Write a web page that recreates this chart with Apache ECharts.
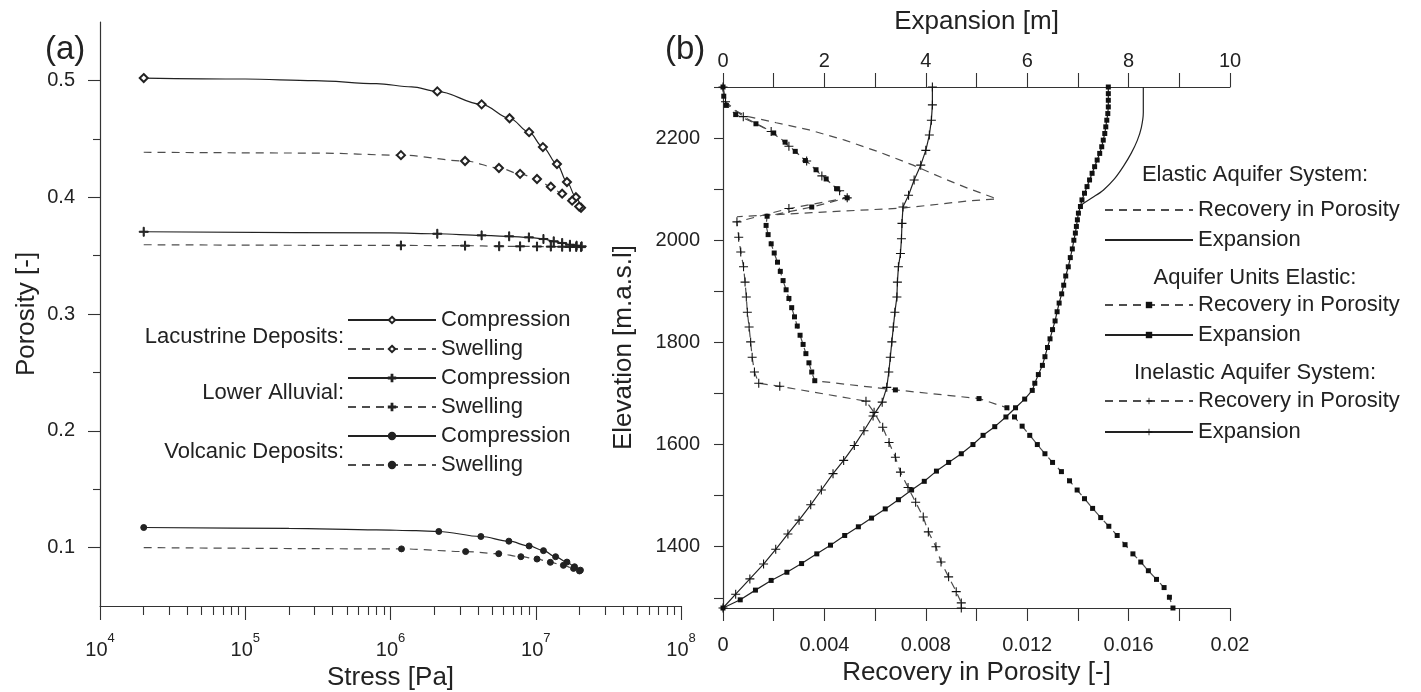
<!DOCTYPE html>
<html>
<head>
<meta charset="utf-8">
<title>Porosity vs stress and recovery profiles</title>
<script src="https://cdn.jsdelivr.net/npm/echarts@6.0.0/dist/echarts.min.js"></script>
<style>
  html, body { margin: 0; padding: 0; background: #fff; }
  #main { width: 1421px; height: 692px; }
</style>
</head>
<body>
<div id="main"></div>
<script>
// ---------- panel (a): stress [Pa] vs porosity ----------
// *Marks = points carrying a symbol, *Shape = extra points on the curve (line only)
const lacCompMarks = [[2e4, 0.502], [2.1e6, 0.4906], [4.24e6, 0.4795], [6.6e6, 0.4676], [9.0e6, 0.4557], [1.12e7, 0.4429], [1.4e7, 0.4284], [1.64e7, 0.413], [1.89e7, 0.400], [2.05e7, 0.391]];
const lacCompShape = [[1e5, 0.5012], [3e5, 0.4998], [8e5, 0.4972], [1.4e6, 0.4945]];
const lacSwellMarks = [[1.18e6, 0.436], [3.26e6, 0.431], [5.58e6, 0.425], [7.8e6, 0.420], [1.02e7, 0.4156], [1.27e7, 0.409], [1.52e7, 0.403], [1.78e7, 0.397], [1.99e7, 0.392]];
const lacSwellShape = [[2e4, 0.4385], [3e5, 0.4378]];
const aluCompMarks = [[2e4, 0.3704], [2.1e6, 0.3687], [4.24e6, 0.3673], [6.56e6, 0.3665], [8.97e6, 0.3656], [1.13e7, 0.3642], [1.33e7, 0.3622], [1.52e7, 0.3608], [1.72e7, 0.3593], [1.91e7, 0.3585], [2.07e7, 0.3579]];
const aluCompShape = [[1e6, 0.3694]];
const aluSwellMarks = [[1.18e6, 0.3587], [3.26e6, 0.3585], [5.6e6, 0.358], [7.8e6, 0.3579], [1.02e7, 0.3578], [1.27e7, 0.3577], [1.52e7, 0.3576], [1.72e7, 0.3575], [1.9e7, 0.3574], [2.05e7, 0.3573]];
const aluSwellShape = [[2e4, 0.3593]];
const volCompMarks = [[2e4, 0.1172], [2.15e6, 0.1138], [4.19e6, 0.1095], [6.53e6, 0.1055], [9.0e6, 0.1014], [1.13e7, 0.0974], [1.37e7, 0.0922], [1.64e7, 0.0876], [1.85e7, 0.0836], [2.03e7, 0.0807]];
const volCompShape = [[2e5, 0.1165], [8e5, 0.1152], [1.5e6, 0.1145]];
const volSwellMarks = [[1.19e6, 0.0989], [3.29e6, 0.0966], [5.56e6, 0.0948], [7.9e6, 0.0922], [1.02e7, 0.0902], [1.26e7, 0.0874], [1.55e7, 0.0848], [1.82e7, 0.0822], [2.0e7, 0.080]];
const volSwellShape = [[2e4, 0.100]];

const stressMajor = [1e4, 1e5, 1e6, 1e7, 1e8];
const stressMinor = [];
for (let d = 1e4; d < 1e8; d *= 10) for (let k = 2; k <= 9; k++) stressMinor.push(k * d);
const poroMajor = [0.1, 0.2, 0.3, 0.4, 0.5];
const poroMinor = [0.15, 0.25, 0.35, 0.45];

// ---------- panel (b): profiles vs elevation, pairs [value, elevation] ----------
const elasticRecovery = [[0, 2300], [0.0001, 2270], [0.0004, 2255], [0.0010, 2242], [0.0021, 2230], [0.0034, 2216], [0.0048, 2196], [0.0062, 2172], [0.0075, 2147], [0.0087, 2121], [0.0097, 2101], [0.0108, 2081], [0.0097, 2077], [0.0071, 2063], [0.0035, 2054], [0.00055, 2046]];
const elasticExpansion = [[8.29, 2300], [8.29, 2250], [8.25, 2220], [8.17, 2195], [8.05, 2170], [7.90, 2145], [7.72, 2120], [7.50, 2098], [7.28, 2083], [7.08, 2070], [7.05, 2066]];
const unitsRecovery = [[0, 2300], [0.00003, 2282], [0.00013, 2264], [0.0005, 2246], [0.0013, 2228], [0.0020, 2210], [0.00245, 2192], [0.00285, 2174], [0.00325, 2156], [0.00367, 2138], [0.00407, 2120], [0.00448, 2101], [0.0049, 2083], [0.0035, 2065], [0.00174, 2047], [0.0017, 2029], [0.00178, 2011], [0.0019, 1993], [0.00202, 1975], [0.00215, 1957], [0.00226, 1939], [0.00237, 1921], [0.00249, 1903], [0.0026, 1886], [0.00271, 1868], [0.00282, 1850], [0.00293, 1832], [0.00304, 1814], [0.00316, 1796], [0.00327, 1778], [0.00339, 1760], [0.0035, 1742], [0.00362, 1725], [0.0068, 1707], [0.0101, 1690], [0.0112, 1672], [0.0115, 1654], [0.0118, 1636], [0.0121, 1618], [0.0124, 1600], [0.0127, 1582], [0.0130, 1565], [0.01335, 1547], [0.01367, 1529], [0.01397, 1511], [0.01426, 1494], [0.01458, 1475], [0.0149, 1457], [0.01522, 1440], [0.01555, 1422], [0.01586, 1404], [0.01617, 1386], [0.01648, 1370], [0.01678, 1353], [0.0171, 1336], [0.0174, 1320], [0.01761, 1301], [0.01775, 1280]];
const unitsExpansion = [[7.60, 2300], [7.60, 2287], [7.60, 2274], [7.60, 2261], [7.59, 2248], [7.57, 2235], [7.55, 2222], [7.53, 2209], [7.50, 2196], [7.47, 2183], [7.43, 2170], [7.38, 2157], [7.33, 2144], [7.28, 2131], [7.23, 2118], [7.18, 2105], [7.13, 2092], [7.08, 2079], [7.05, 2066], [7.01, 2053], [6.99, 2040], [6.97, 2027], [6.95, 2014], [6.92, 2000], [6.89, 1983], [6.85, 1966], [6.81, 1948], [6.76, 1930], [6.72, 1912], [6.68, 1895], [6.63, 1877], [6.59, 1860], [6.55, 1842], [6.50, 1825], [6.45, 1807], [6.40, 1790], [6.35, 1772], [6.30, 1755], [6.22, 1737], [6.15, 1720], [6.10, 1706], [5.95, 1689], [5.77, 1672], [5.58, 1654], [5.36, 1635], [5.13, 1618], [4.93, 1600], [4.70, 1582], [4.45, 1565], [4.21, 1548], [3.97, 1528], [3.72, 1511], [3.46, 1492], [3.20, 1474], [2.93, 1456], [2.67, 1439], [2.40, 1422], [2.12, 1403], [1.85, 1386], [1.55, 1367], [1.26, 1350], [0.95, 1334], [0.64, 1315], [0.34, 1296], [0, 1280]];
const inelRecovery = [[0, 2300], [0.0001, 2271], [0.0008, 2242], [0.0019, 2213], [0.0026, 2184], [0.0033, 2155], [0.0039, 2126], [0.0046, 2097], [0.0049, 2083], [0.0026, 2062], [0.00055, 2036], [0.00062, 2006], [0.0007, 1977], [0.00081, 1948], [0.00087, 1918], [0.00092, 1889], [0.00096, 1859], [0.00103, 1830], [0.00109, 1801], [0.00115, 1771], [0.00124, 1742], [0.00141, 1720], [0.00224, 1714], [0.00564, 1685], [0.00596, 1663], [0.0063, 1634], [0.00655, 1604], [0.0068, 1575], [0.0070, 1546], [0.0073, 1516], [0.0076, 1487], [0.0079, 1458], [0.0081, 1429], [0.0084, 1400], [0.0086, 1370], [0.0089, 1341], [0.0092, 1312], [0.0094, 1290], [0.0094, 1280]];
const inelExpansion = [[4.13, 2300], [4.13, 2265], [4.11, 2235], [4.07, 2206], [4.00, 2176], [3.90, 2147], [3.77, 2118], [3.66, 2088], [3.55, 2065], [3.53, 2033], [3.52, 2003], [3.50, 1974], [3.46, 1948], [3.44, 1918], [3.43, 1889], [3.39, 1859], [3.36, 1830], [3.33, 1801], [3.30, 1771], [3.27, 1742], [3.23, 1712], [3.14, 1683], [2.96, 1656], [2.78, 1627], [2.59, 1598], [2.38, 1569], [2.17, 1543], [1.94, 1511], [1.73, 1482], [1.50, 1452], [1.28, 1425], [1.04, 1395], [0.80, 1366], [0.53, 1337], [0.25, 1307], [0, 1280]];

const elevTicks = [1300, 1400, 1500, 1600, 1700, 1800, 1900, 2000, 2100, 2200, 2300];
const elevLabels = [1400, 1600, 1800, 2000, 2200];
const recoveryLabels = [0, 0.004, 0.008, 0.012, 0.016, 0.02];
const expansionLabels = [0, 2, 4, 6, 8, 10];

const leftGroups = ['Lacustrine Deposits:', 'Lower Alluvial:', 'Volcanic Deposits:'];
const rightGroups = ['Elastic Aquifer System:', 'Aquifer Units Elastic:', 'Inelastic Aquifer System:'];

// ---------- styling ----------
const FONT = 'Liberation Sans';
const INK = '#222';
const DASH = '#4d4d4d';
const PLUS = 'path://M4.4,0H5.6V4.4H10V5.6H5.6V10H4.4V5.6H0V4.4H4.4Z';
const axisLine = { show: true, onZero: false, lineStyle: { color: '#333', width: 1.2 } };
const tickLine = { color: '#333', width: 1.1 };
const labelStyle = { fontSize: 20, color: INK, fontFamily: FONT };
const nameStyle = { fontSize: 26, color: INK, fontFamily: FONT };

function curve(marks, shape) {
  return marks.map(p => ({ value: p }))
    .concat(shape.map(p => ({ value: p, symbol: 'none' })))
    .sort((a, b) => a.value[0] - b.value[0]);
}

function leftSeries(name, marks, shape, symbol, size, dashed) {
  return {
    name: name, type: 'line', xAxisIndex: 0, yAxisIndex: 0,
    data: curve(marks, shape),
    smooth: 0.35, smoothMonotone: 'x',
    symbol: symbol, symbolSize: size, showSymbol: true,
    lineStyle: { color: dashed ? DASH : INK, width: 1.2, type: dashed ? [8, 6] : 'solid' },
    itemStyle: { color: INK, borderColor: INK, borderWidth: 1 },
    z: 3
  };
}

function rightSeries(name, data, onExpansion, symbol, dashed, smooth) {
  return {
    name: name, type: 'line', xAxisIndex: onExpansion ? 3 : 2, yAxisIndex: 2,
    data: data,
    smooth: smooth || false,
    symbol: symbol || 'circle', symbolSize: symbol === PLUS ? 9 : 5,
    showSymbol: !!symbol,
    lineStyle: { color: dashed ? DASH : INK, width: 1.2, type: dashed ? [8, 6] : 'solid' },
    itemStyle: { color: '#111' },
    z: 3
  };
}

const series = [
  leftSeries('Lacustrine Deposits: Compression', lacCompMarks, lacCompShape, 'emptyDiamond', 8, false),
  leftSeries('Lacustrine Deposits: Swelling', lacSwellMarks, lacSwellShape, 'emptyDiamond', 8, true),
  leftSeries('Lower Alluvial: Compression', aluCompMarks, aluCompShape, PLUS, 9, false),
  leftSeries('Lower Alluvial: Swelling', aluSwellMarks, aluSwellShape, PLUS, 9, true),
  leftSeries('Volcanic Deposits: Compression', volCompMarks, volCompShape, 'circle', 6, false),
  leftSeries('Volcanic Deposits: Swelling', volSwellMarks, volSwellShape, 'circle', 6, true),
  rightSeries('Elastic Aquifer System: Recovery in Porosity', elasticRecovery, false, null, true),
  rightSeries('Elastic Aquifer System: Expansion', elasticExpansion, true, null, false, 0.3),
  rightSeries('Aquifer Units Elastic: Recovery in Porosity', unitsRecovery, false, 'rect', true),
  rightSeries('Aquifer Units Elastic: Expansion', unitsExpansion, true, 'rect', false),
  rightSeries('Inelastic Aquifer System: Recovery in Porosity', inelRecovery, false, PLUS, true),
  rightSeries('Inelastic Aquifer System: Expansion', inelExpansion, true, PLUS, false)
];

const legendBase = {
  orient: 'vertical', padding: 0, itemWidth: 88, itemHeight: 8, itemGap: 5,
  selectedMode: false,
  textStyle: { fontSize: 22, lineHeight: 24, color: INK, fontFamily: FONT },
  formatter: name => name.slice(name.indexOf(': ') + 2)
};
function legendItems(names) {
  return names.map(n => series[n].symbol === 'circle' && !series[n].showSymbol
    ? { name: series[n].name, itemStyle: { opacity: 0 } }
    : { name: series[n].name });
}

const graphic = [
  { type: 'text', left: 45, top: 33, style: { text: '(a)', fontSize: 33, fontFamily: FONT, fill: INK } },
  { type: 'text', left: 665, top: 33, style: { text: '(b)', fontSize: 33, fontFamily: FONT, fill: INK } }
];
[337, 393, 452].forEach((y, i) => graphic.push({
  type: 'text', x: 344, y: y,
  style: { text: leftGroups[i], fontSize: 22, fontFamily: FONT, fill: INK, align: 'right', verticalAlign: 'middle', textAlign: 'right', textVerticalAlign: 'middle' }
}));
[175, 278, 373].forEach((y, i) => graphic.push({
  type: 'text', x: 1255, y: y,
  style: { text: rightGroups[i], fontSize: 22, fontFamily: FONT, fill: INK, align: 'center', verticalAlign: 'middle', textAlign: 'center', textVerticalAlign: 'middle' }
}));

const option = {
  animation: false,
  backgroundColor: '#fff',
  textStyle: { fontFamily: FONT, color: INK },
  graphic: graphic,
  grid: [
    { left: 100, top: 22, width: 581, height: 584, containLabel: false, outerBoundsMode: 'none' },
    { left: 723, top: 87, width: 507, height: 521, containLabel: false, outerBoundsMode: 'none' }
  ],
  legend: [
    Object.assign({}, legendBase, { left: 347, top: 308, data: legendItems([0, 1, 2, 3, 4, 5]) }),
    Object.assign({}, legendBase, { left: 1104, top: 198, itemGap: 6, data: legendItems([6, 7]) }),
    Object.assign({}, legendBase, { left: 1104, top: 293, itemGap: 6, data: legendItems([8, 9]) }),
    Object.assign({}, legendBase, { left: 1104, top: 389, itemGap: 7, data: legendItems([10, 11]) })
  ],
  xAxis: [
    {
      type: 'log', logBase: 10, gridIndex: 0, position: 'bottom', min: 1e4, max: 1e8,
      axisLine: axisLine, splitLine: { show: false },
      axisTick: { show: true, length: 14, customValues: stressMajor, lineStyle: tickLine },
      axisLabel: {
        customValues: stressMajor, margin: 26,
        formatter: v => '{b|10}{s|' + Math.round(Math.log10(v)) + '}',
        rich: {
          b: { fontSize: 20, lineHeight: 28, verticalAlign: 'bottom', fontFamily: FONT, color: INK },
          s: { fontSize: 13, lineHeight: 16, verticalAlign: 'top', fontFamily: FONT, color: INK }
        }
      },
      name: 'Stress [Pa]', nameLocation: 'middle', nameGap: 50, nameTextStyle: nameStyle
    },
    {
      type: 'log', logBase: 10, gridIndex: 0, position: 'bottom', min: 1e4, max: 1e8,
      axisLine: { show: false }, splitLine: { show: false }, axisLabel: { show: false },
      axisTick: { show: true, length: 9, customValues: stressMinor, lineStyle: tickLine }
    },
    {
      type: 'value', gridIndex: 1, position: 'bottom', min: 0, max: 0.02, interval: 0.002,
      axisLine: axisLine, splitLine: { show: false },
      axisTick: { show: true, length: 13, lineStyle: tickLine },
      axisLabel: Object.assign({ customValues: recoveryLabels, margin: 27, formatter: v => String(v) }, labelStyle),
      name: 'Recovery in Porosity [-]', nameLocation: 'middle', nameGap: 49, nameTextStyle: nameStyle
    },
    {
      type: 'value', gridIndex: 1, position: 'top', min: 0, max: 10, interval: 1,
      axisLine: axisLine, splitLine: { show: false },
      axisTick: { show: true, length: 14, lineStyle: tickLine },
      axisLabel: Object.assign({ customValues: expansionLabels, margin: 16, formatter: v => String(v) }, labelStyle),
      name: 'Expansion [m]', nameLocation: 'middle', nameGap: 52, nameTextStyle: nameStyle
    }
  ],
  yAxis: [
    {
      type: 'value', gridIndex: 0, position: 'left', min: 0.05, max: 0.55,
      axisLine: axisLine, splitLine: { show: false },
      axisTick: { show: true, length: 12, customValues: poroMajor, lineStyle: tickLine },
      axisLabel: Object.assign({ customValues: poroMajor, margin: 25, formatter: v => v.toFixed(1) }, labelStyle),
      name: 'Porosity [-]', nameLocation: 'middle', nameGap: 60, nameTextStyle: nameStyle
    },
    {
      type: 'value', gridIndex: 0, position: 'left', min: 0.05, max: 0.55,
      axisLine: { show: false }, splitLine: { show: false }, axisLabel: { show: false },
      axisTick: { show: true, length: 7, customValues: poroMinor, lineStyle: tickLine }
    },
    {
      type: 'value', gridIndex: 1, position: 'left', min: 1280, max: 2300,
      axisLine: axisLine, splitLine: { show: false },
      axisTick: { show: true, length: 9, customValues: elevTicks, lineStyle: tickLine },
      axisLabel: Object.assign({ customValues: elevLabels, margin: 23, formatter: v => String(v) }, labelStyle),
      name: 'Elevation [m.a.s.l]', nameLocation: 'middle', nameGap: 86, nameTextStyle: nameStyle
    }
  ],
  series: series
};

const chart = echarts.init(document.getElementById('main'));
chart.setOption(option);
</script>
</body>
</html>
